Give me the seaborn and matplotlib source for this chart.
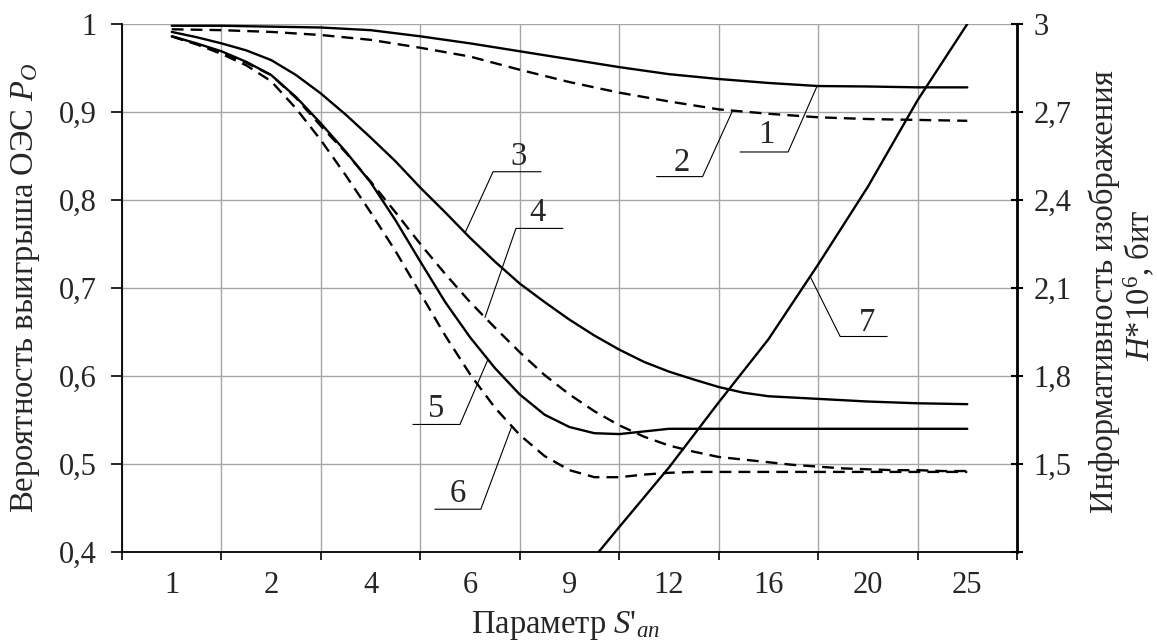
import numpy as np
import matplotlib
matplotlib.use("Agg")
import matplotlib.pyplot as plt
import seaborn as sns
from matplotlib.ticker import FixedLocator, FixedFormatter

# ---------------- data ----------------
x_labels = ["1", "2", "4", "6", "9", "12", "16", "20", "25"]

# readings taken every half category (curves 1, 2)
x_half = [0.0, 0.5, 1.0, 1.5, 2.0, 2.5, 3.0, 3.5, 4.0, 4.5, 5.0, 5.5, 6.0, 6.5, 7.0, 7.5, 8.0]
p1 = [0.998, 0.998, 0.997, 0.996, 0.993, 0.986, 0.978, 0.969, 0.960, 0.951, 0.943, 0.9375, 0.933, 0.9295, 0.929, 0.928, 0.928]
p2 = [0.994, 0.993, 0.991, 0.9875, 0.982, 0.973, 0.963, 0.948, 0.934, 0.922, 0.912, 0.903, 0.898, 0.894, 0.892, 0.891, 0.890]

# readings taken every quarter category (curves 3-6)
x_quarter = [0.0, 0.25, 0.5, 0.75, 1.0, 1.25, 1.5, 1.75, 2.0, 2.25, 2.5, 2.75, 3.0, 3.25, 3.5, 3.75,
             4.0, 4.25, 4.5, 4.75, 5.0, 5.25, 5.5, 5.75, 6.0, 6.25, 6.5, 6.75, 7.0, 7.25, 7.5, 7.75, 8.0]
p3 = [0.991, 0.985, 0.978, 0.970, 0.959, 0.942, 0.921, 0.897, 0.871, 0.844, 0.814, 0.786, 0.757, 0.730, 0.705, 0.684,
      0.664, 0.646, 0.630, 0.616, 0.605, 0.596, 0.5875, 0.581, 0.577, 0.5755, 0.574, 0.5725, 0.571, 0.570, 0.569, 0.5685, 0.568]
p4 = [0.986, 0.977, 0.967, 0.956, 0.942, 0.916, 0.884, 0.854, 0.821, 0.786, 0.750, 0.716, 0.684, 0.655, 0.627, 0.601,
      0.579, 0.560, 0.544, 0.531, 0.521, 0.514, 0.508, 0.505, 0.502, 0.499, 0.497, 0.495, 0.494, 0.493, 0.493, 0.492, 0.492]
p5 = [0.986, 0.978, 0.969, 0.957, 0.942, 0.917, 0.887, 0.855, 0.820, 0.777, 0.730, 0.684, 0.644, 0.609, 0.579, 0.556,
      0.542, 0.535, 0.534, 0.537, 0.540, 0.540, 0.540, 0.540, 0.540, 0.540, 0.540, 0.540, 0.540, 0.540, 0.540, 0.540, 0.540]
p6 = [0.986, 0.977, 0.966, 0.953, 0.935, 0.904, 0.868, 0.828, 0.786, 0.742, 0.694, 0.646, 0.602, 0.564, 0.533, 0.509,
      0.493, 0.485, 0.485, 0.488, 0.490, 0.491, 0.491, 0.491, 0.491, 0.491, 0.491, 0.491, 0.491, 0.491, 0.491, 0.491, 0.491]

# curve 7, image informativeness (right axis)
x7 = [4.0, 4.5, 5.0, 5.5, 6.0, 6.5, 7.0, 7.5, 8.0]
h7 = [1.08, 1.285, 1.488, 1.71, 1.925, 2.18, 2.445, 2.74, 3.0]

y_ticks = [0.4, 0.5, 0.6, 0.7, 0.8, 0.9, 1.0]
y_tick_labels = ["0,4", "0,5", "0,6", "0,7", "0,8", "0,9", "1"]
h_ticks = [1.2, 1.5, 1.8, 2.1, 2.4, 2.7, 3.0]
h_tick_labels = ["", "1,5", "1,8", "2,1", "2,4", "2,7", "3"]

# ---------------- style ----------------
sns.set_style("white")
plt.rcParams["font.family"] = ["Liberation Serif", "DejaVu Serif"]
plt.rcParams["mathtext.fontset"] = "custom"
plt.rcParams["mathtext.rm"] = "Liberation Serif"
plt.rcParams["mathtext.it"] = "Liberation Serif:italic"
FS = 22
FS_T = 23.5
W, H = 1157, 644

fig = plt.figure(figsize=(W / 100, H / 100), dpi=100)
ax = fig.add_axes([122 / W, 1 - 552 / H, (1017 - 122) / W, (552 - 24) / H])
ax2 = ax.twinx()

LW = 1.7
DASH = (0, (5, 3))
series = [(x_half, p1, "-"), (x_half, p2, DASH), (x_quarter, p3, "-"),
          (x_quarter, p4, DASH), (x_quarter, p5, "-"), (x_quarter, p6, DASH)]
for xs, ys, ls in series:
    sns.lineplot(x=xs, y=ys, ax=ax, color="black", lw=LW, linestyle=ls, zorder=3)
sns.lineplot(x=x7, y=h7, ax=ax2, color="black", lw=LW, zorder=3)

# ---------------- axes ----------------
ax.set_xlim(-0.5, 8.5)
ax.set_ylim(0.4, 1.0)
ax2.set_ylim(1.2, 3.0)
ax.set_xlabel("")
ax.set_ylabel("")
ax2.set_ylabel("")

ax.set_xticks(np.arange(-0.5, 9.0, 1.0))
ax.set_xticklabels([""] * 10)
ax.xaxis.set_minor_locator(FixedLocator(range(len(x_labels))))
ax.xaxis.set_minor_formatter(FixedFormatter(x_labels))
ax.tick_params(axis="x", which="major", bottom=True, length=6, width=1.2, color="black", direction="out")
ax.tick_params(axis="x", which="minor", bottom=True, length=0, pad=14, labelsize=FS)

ax.set_yticks(y_ticks)
ax.set_yticklabels(y_tick_labels)
ax.tick_params(axis="y", left=True, length=8, width=1.2, color="black", direction="out", pad=10, labelsize=FS)

ax2.set_yticks(h_ticks)
ax2.set_yticklabels(h_tick_labels)
ax2.tick_params(axis="y", right=True, length=8, width=1.5, color="black", direction="inout", pad=8, labelsize=FS)

ax.grid(True, which="major", color="#a6a6a6", lw=1.0)
ax.set_axisbelow(True)
ax2.grid(False)

for s in ["top", "right"]:
    ax.spines[s].set_visible(False)
for s in ["top", "left", "bottom"]:
    ax2.spines[s].set_visible(False)
for s in ["left", "bottom"]:
    ax.spines[s].set_color("black")
    ax.spines[s].set_linewidth(1.3)
ax2.spines["right"].set_color("black")
ax2.spines["right"].set_linewidth(2.0)


# ---------------- leaders with curve numbers ----------------
def leader(axis, t, sx, sy, corner, far, text_off, label):
    v = np.interp(t, sx, sy)
    a = axis.transData.transform((t, v))
    inv = axis.transData.inverted()
    pts = inv.transform([a + np.array([far[0], -far[1]]),
                         a + np.array([corner[0], -corner[1]]),
                         a])
    axis.plot(pts[:, 0], pts[:, 1], color="black", lw=0.8, clip_on=False, zorder=4)
    tp = inv.transform(a + np.array([text_off[0], -text_off[1]]))
    axis.text(tp[0], tp[1], label, ha="center", va="baseline", fontsize=FS_T, zorder=4)


leader(ax, 6.49, x_half, p1, (-29, 66), (-77, 66), (-51, 57), "1")
leader(ax, 5.64, x_half, p2, (-30, 66), (-76, 66), (-51, 60), "2")
leader(ax, 2.95, x_quarter, p3, (28, -61), (76, -61), (53, -68), "3")
leader(ax, 3.15, x_quarter, p4, (31, -89), (78, -89), (53, -96), "4")
leader(ax, 3.18, x_quarter, p5, (-28, 65), (-75, 65), (-52, 58), "5")
leader(ax, 3.42, x_quarter, p6, (-31, 83), (-77, 83), (-54, 76), "6")
leader(ax2, 6.42, x7, h7, (30, 60), (77, 60), (57, 54), "7")

# ---------------- axis titles ----------------
fig.text(566 / W, 1 - 626 / H, r"Параметр $S$'$_{an}$", ha="center", va="center", fontsize=FS_T)
fig.text(26 / W, 1 - 288 / H, r"Вероятность выигрыша ОЭС $P_O$", rotation=90,
         ha="center", va="center", fontsize=FS_T)
fig.text(1104 / W, 1 - 292 / H, "Информативность изображения", rotation=90,
         ha="center", va="center", fontsize=FS_T)
fig.text(1140 / W, 1 - 285 / H, r"$H$*10$^6$, бит", rotation=90,
         ha="center", va="center", fontsize=FS_T)

fig.savefig("out.png", dpi=100)
